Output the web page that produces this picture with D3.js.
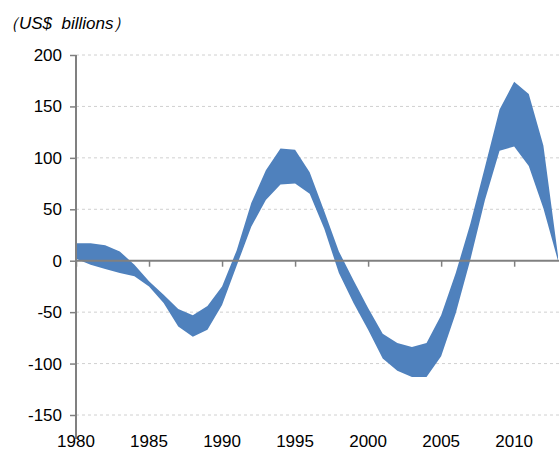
<!DOCTYPE html>
<html>
<head>
<meta charset="utf-8">
<script src="https://cdn.jsdelivr.net/npm/d3@7"></script>
<style>
  body { margin: 0; background: #fff; }
  text { font-family: "Liberation Sans", Arial, sans-serif; }
</style>
</head>
<body>
<div id="chart"></div>
<script>
// data (US$ billions)
var years = d3.range(1980, 2014);
var upper = [17, 17, 15, 9, -4, -20, -33, -47, -53, -44, -25, 10, 56, 88, 109, 108, 86, 48, 9, -19,
  -46, -71, -80, -84, -80, -53, -12, 36, 91, 147, 174, 162, 112, 5];
var lower = [2, -4, -8, -12, -15, -25, -41, -64, -74, -67, -43, -5, 33, 59, 74, 75, 65, 31, -12, -41,
  -67, -95, -107, -113, -113, -93, -51, 1, 59, 107, 111, 92, 51, 0];
var yTicks = [-150, -100, -50, 0, 50, 100, 150, 200];
var xTicks = [1980, 1985, 1990, 1995, 2000, 2005, 2010];

var svgWidth = 559, svgHeight = 452;
var margin = { top: 55, right: 0, bottom: 37, left: 76 };

var svg = d3.select("#chart").append("svg")
  .attr("width", svgWidth)
  .attr("height", svgHeight);

var x = d3.scaleLinear().domain([1980, 2013.07]).range([margin.left, svgWidth]);
var y = d3.scaleLinear().domain([-150, 200]).range([svgHeight - margin.bottom, margin.top]);

// gridlines
svg.append("g").selectAll("line")
  .data(yTicks.filter(d => d !== 0))
  .enter().append("line")
  .attr("x1", margin.left).attr("x2", svgWidth)
  .attr("y1", d => y(d)).attr("y2", d => y(d))
  .attr("stroke", "#d0d0d0")
  .attr("stroke-dasharray", "3,3");

// band
var area = d3.area()
  .x((d, i) => x(years[i]))
  .y0((d, i) => y(lower[i]))
  .y1((d, i) => y(upper[i]));

svg.append("path")
  .datum(years)
  .attr("d", area)
  .attr("fill", "#4f81bd");

// y axis
var yAxis = svg.append("g")
  .attr("transform", `translate(${margin.left},0)`)
  .call(d3.axisLeft(y).tickValues(yTicks).tickSize(6).tickPadding(8).tickFormat(d => String(d)));
yAxis.select(".domain").attr("stroke", "#808080").attr("stroke-width", 2)
  .attr("d", `M0,${y(-150) + 24}V${y(200)}`);
yAxis.selectAll(".tick line").attr("stroke", "#808080").attr("stroke-width", 1.5);
yAxis.selectAll("text").attr("font-size", 17).attr("fill", "#000");

// x axis on the zero line
var xAxis = svg.append("g")
  .attr("transform", `translate(0,${y(0)})`)
  .call(d3.axisBottom(x).tickValues(xTicks).tickSize(6).tickFormat(""));
xAxis.select(".domain").attr("stroke", "#808080").attr("stroke-width", 2)
  .attr("d", `M${margin.left},0H${svgWidth}`);
xAxis.selectAll(".tick line").attr("stroke", "#808080").attr("stroke-width", 1.5);

// x labels at the bottom
svg.append("g").selectAll("text")
  .data(xTicks)
  .enter().append("text")
  .attr("x", d => x(d))
  .attr("y", 447)
  .attr("text-anchor", "middle")
  .attr("font-size", 17)
  .text(d => d);

// unit label
svg.append("text")
  .attr("x", 2).attr("y", 29)
  .attr("font-size", 17)
  .attr("font-style", "italic")
  .style("white-space", "pre")
  .text("（US$  billions）");
</script>
</body>
</html>
